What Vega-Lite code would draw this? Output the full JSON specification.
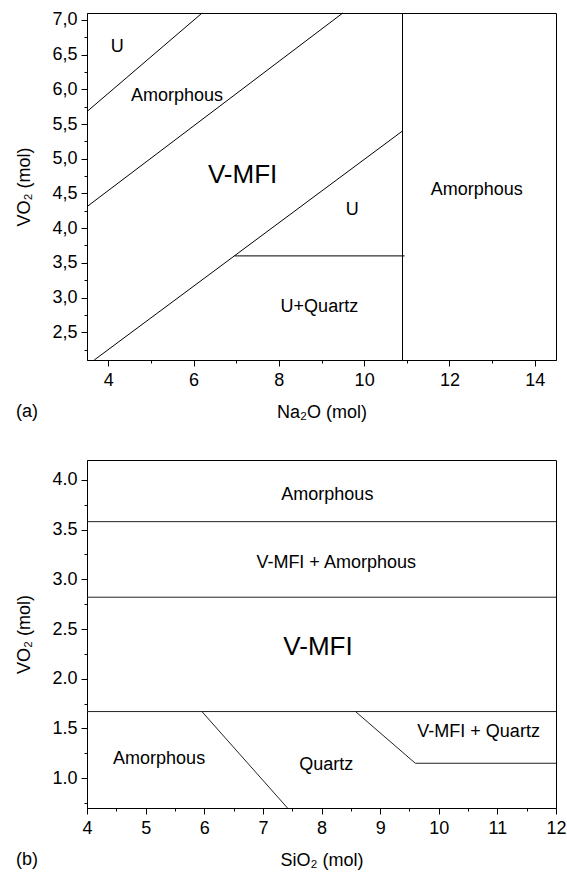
{
  "$schema": "https://vega.github.io/schema/vega-lite/v6.json",
  "background": "white",
  "padding": {"top": 10, "left": 15, "right": 0, "bottom": 0},
  "spacing": 37,
  "config": {
    "font": "Liberation Sans",
    "view": {"stroke": "black", "strokeWidth": 1},
    "axis": {
      "grid": false,
      "domainColor": "black",
      "domainWidth": 1,
      "tickColor": "black",
      "tickWidth": 1,
      "tickCount": 100,
      "labelColor": "black",
      "titleColor": "black",
      "labelFont": "Liberation Sans",
      "titleFont": "Liberation Sans",
      "labelFontSize": 18,
      "titleFontSize": 18,
      "titleFontWeight": "normal",
      "labelPadding": 5,
      "labelOverlap": false,
      "labelFlush": false
    },
    "text": {"font": "Liberation Sans", "color": "black"}
  },
  "datasets": {
    "segA": [
      {"x1": 3.5, "y1": 5.68, "x2": 6.2, "y2": 7.1},
      {"x1": 3.5, "y1": 4.31, "x2": 9.5, "y2": 7.1},
      {"x1": 3.67, "y1": 2.1, "x2": 10.9, "y2": 5.4},
      {"x1": 6.96, "y1": 3.6, "x2": 10.95, "y2": 3.6},
      {"x1": 10.9, "y1": 2.1, "x2": 10.9, "y2": 7.1}
    ],
    "labA": [
      {"x": 4.21, "y": 6.61, "label": "U"},
      {"x": 5.61, "y": 5.91, "label": "Amorphous"},
      {"x": 9.72, "y": 4.26, "label": "U"},
      {"x": 8.95, "y": 2.87, "label": "U+Quartz"},
      {"x": 12.64, "y": 4.55, "label": "Amorphous"}
    ],
    "bigA": [
      {"x": 7.15, "y": 4.76, "label": "V-MFI"}
    ],
    "segB": [
      {"x1": 4, "y1": 3.58, "x2": 12, "y2": 3.58},
      {"x1": 4, "y1": 2.82, "x2": 12, "y2": 2.82},
      {"x1": 4, "y1": 1.67, "x2": 12, "y2": 1.67},
      {"x1": 5.96, "y1": 1.67, "x2": 7.42, "y2": 0.7},
      {"x1": 8.58, "y1": 1.67, "x2": 9.6, "y2": 1.15},
      {"x1": 9.6, "y1": 1.15, "x2": 12, "y2": 1.15}
    ],
    "labB": [
      {"x": 8.1, "y": 3.85, "label": "Amorphous"},
      {"x": 8.25, "y": 3.16, "label": "V-MFI + Amorphous"},
      {"x": 5.23, "y": 1.19, "label": "Amorphous"},
      {"x": 8.08, "y": 1.13, "label": "Quartz"},
      {"x": 10.68, "y": 1.46, "label": "V-MFI + Quartz"}
    ],
    "bigB": [
      {"x": 7.94, "y": 2.32, "label": "V-MFI"}
    ]
  },
  "vconcat": [
    {
      "width": 469,
      "height": 347,
      "title": {"text": "(a)", "orient": "bottom", "anchor": "start", "frame": "bounds", "offset": -18, "fontSize": 18, "fontWeight": "normal", "font": "Liberation Sans", "color": "black"},
      "layer": [
        {
          "data": {"name": "segA"},
          "mark": {"type": "rule", "color": "black", "strokeWidth": 1},
          "encoding": {
            "x": {
              "field": "x1", "type": "quantitative",
              "scale": {"domain": [3.5, 14.5], "nice": false, "zero": false},
              "axis": {
                "title": "Na₂O (mol)",
                "values": [4, 5, 6, 7, 8, 9, 10, 11, 12, 13, 14],
                "labelExpr": "datum.value % 2 === 0 ? format(datum.value, 'd') : ''",
                "tickSize": {"condition": {"test": "datum.value % 2 === 0", "value": 6}, "value": 3},
                "titlePadding": 14
              }
            },
            "y": {
              "field": "y1", "type": "quantitative",
              "scale": {"domain": [2.1, 7.1], "nice": false, "zero": false},
              "axis": {
                "title": "VO₂ (mol)",
                "values": [2.25, 2.5, 2.75, 3, 3.25, 3.5, 3.75, 4, 4.25, 4.5, 4.75, 5, 5.25, 5.5, 5.75, 6, 6.25, 6.5, 6.75, 7],
                "labelExpr": "(datum.value * 4) % 2 === 0 ? replace(format(datum.value, '.1f'), '.', ',') : ''",
                "tickSize": {"condition": {"test": "(datum.value * 4) % 2 === 0", "value": 6}, "value": 3},
                "labelPadding": 4,
                "titlePadding": 18
              }
            },
            "x2": {"field": "x2"},
            "y2": {"field": "y2"}
          }
        },
        {
          "data": {"name": "labA"},
          "mark": {"type": "text", "fontSize": 18, "color": "black"},
          "encoding": {
            "x": {"field": "x", "type": "quantitative"},
            "y": {"field": "y", "type": "quantitative"},
            "text": {"field": "label"}
          }
        },
        {
          "data": {"name": "bigA"},
          "mark": {"type": "text", "fontSize": 26, "color": "black"},
          "encoding": {
            "x": {"field": "x", "type": "quantitative"},
            "y": {"field": "y", "type": "quantitative"},
            "text": {"field": "label"}
          }
        }
      ]
    },
    {
      "width": 469,
      "height": 348,
      "title": {"text": "(b)", "orient": "bottom", "anchor": "start", "frame": "bounds", "offset": -18, "fontSize": 18, "fontWeight": "normal", "font": "Liberation Sans", "color": "black"},
      "layer": [
        {
          "data": {"name": "segB"},
          "mark": {"type": "rule", "color": "#222222", "strokeWidth": 1},
          "encoding": {
            "x": {
              "field": "x1", "type": "quantitative",
              "scale": {"domain": [4, 12], "nice": false, "zero": false},
              "axis": {
                "title": "SiO₂ (mol)",
                "values": [4, 4.5, 5, 5.5, 6, 6.5, 7, 7.5, 8, 8.5, 9, 9.5, 10, 10.5, 11, 11.5, 12],
                "labelExpr": "datum.value % 1 === 0 ? format(datum.value, 'd') : ''",
                "tickSize": {"condition": {"test": "datum.value % 1 === 0", "value": 6}, "value": 3},
                "titlePadding": 14
              }
            },
            "y": {
              "field": "y1", "type": "quantitative",
              "scale": {"domain": [0.7, 4.2], "nice": false, "zero": false},
              "axis": {
                "title": "VO₂ (mol)",
                "values": [0.75, 1, 1.25, 1.5, 1.75, 2, 2.25, 2.5, 2.75, 3, 3.25, 3.5, 3.75, 4],
                "labelExpr": "(datum.value * 4) % 2 === 0 ? format(datum.value, '.1f') : ''",
                "tickSize": {"condition": {"test": "(datum.value * 4) % 2 === 0", "value": 6}, "value": 3},
                "labelPadding": 4,
                "titlePadding": 18
              }
            },
            "x2": {"field": "x2"},
            "y2": {"field": "y2"}
          }
        },
        {
          "data": {"name": "labB"},
          "mark": {"type": "text", "fontSize": 18, "color": "black"},
          "encoding": {
            "x": {"field": "x", "type": "quantitative"},
            "y": {"field": "y", "type": "quantitative"},
            "text": {"field": "label"}
          }
        },
        {
          "data": {"name": "bigB"},
          "mark": {"type": "text", "fontSize": 26, "color": "black"},
          "encoding": {
            "x": {"field": "x", "type": "quantitative"},
            "y": {"field": "y", "type": "quantitative"},
            "text": {"field": "label"}
          }
        }
      ]
    }
  ]
}
